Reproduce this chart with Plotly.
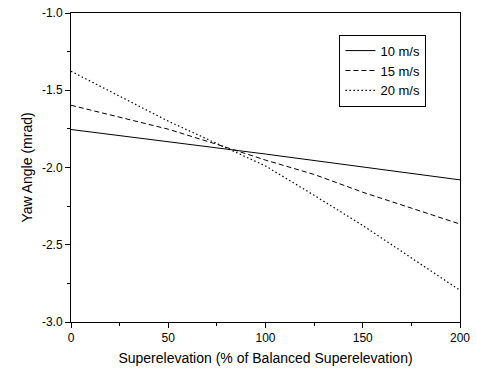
import plotly.graph_objects as go

x_vals = [0, 25, 50, 75, 100, 125, 150, 175, 200]
y_10 = [-1.754, -1.795, -1.833, -1.873, -1.913, -1.955, -2.000, -2.040, -2.080]
y_15 = [-1.597, -1.675, -1.752, -1.850, -1.952, -2.045, -2.160, -2.263, -2.366]
y_20 = [-1.377, -1.540, -1.700, -1.845, -1.990, -2.180, -2.375, -2.585, -2.795]
names = ["10 m/s", "15 m/s", "20 m/s"]

fig = go.Figure()
fig.add_trace(go.Scatter(x=x_vals, y=y_10, mode="lines", name=names[0],
                         line=dict(color="black", width=1)))
fig.add_trace(go.Scatter(x=x_vals, y=y_15, mode="lines", name=names[1],
                         line=dict(color="black", width=1, dash="5px,3px")))
fig.add_trace(go.Scatter(x=x_vals, y=y_20, mode="lines", name=names[2],
                         line=dict(color="black", width=1.2, dash="1.5px,2.5px")))

font_family = "Liberation Sans, Arial, sans-serif"
fig.update_layout(
    width=477, height=370,
    margin=dict(l=71, r=17, t=13, b=48, autoexpand=False),
    paper_bgcolor="white", plot_bgcolor="white",
    font=dict(family=font_family, color="black", size=12),
    legend=dict(x=0.69, y=0.93, xanchor="left", yanchor="top",
                bordercolor="black", borderwidth=1, bgcolor="white",
                font=dict(size=13), tracegroupgap=0, itemwidth=30),
    showlegend=True,
)
fig.update_xaxes(
    range=[0, 200], tickvals=[0, 50, 100, 150, 200],
    showline=True, linecolor="black", linewidth=1, mirror=True,
    ticks="outside", ticklen=5, tickcolor="black",
    minor=dict(tickvals=[25, 75, 125, 175], ticks="outside", ticklen=3, tickcolor="black"),
    showgrid=False, zeroline=False, automargin=False,
    title=dict(text="Superelevation (% of Balanced Superelevation)", font=dict(size=14), standoff=8),
)
fig.update_yaxes(
    range=[-3.0, -1.0], tickvals=[-3.0, -2.5, -2.0, -1.5, -1.0],
    ticktext=["-3.0", "-2.5", "-2.0", "-1.5", "-1.0"],
    showline=True, linecolor="black", linewidth=1, mirror=True,
    ticks="outside", ticklen=5, tickcolor="black",
    minor=dict(tickvals=[-2.75, -2.25, -1.75, -1.25], ticks="outside", ticklen=3, tickcolor="black"),
    showgrid=False, zeroline=False, automargin=False,
    title=dict(text="Yaw Angle (mrad)", font=dict(size=14), standoff=6),
)

fig.write_html("out.html")
